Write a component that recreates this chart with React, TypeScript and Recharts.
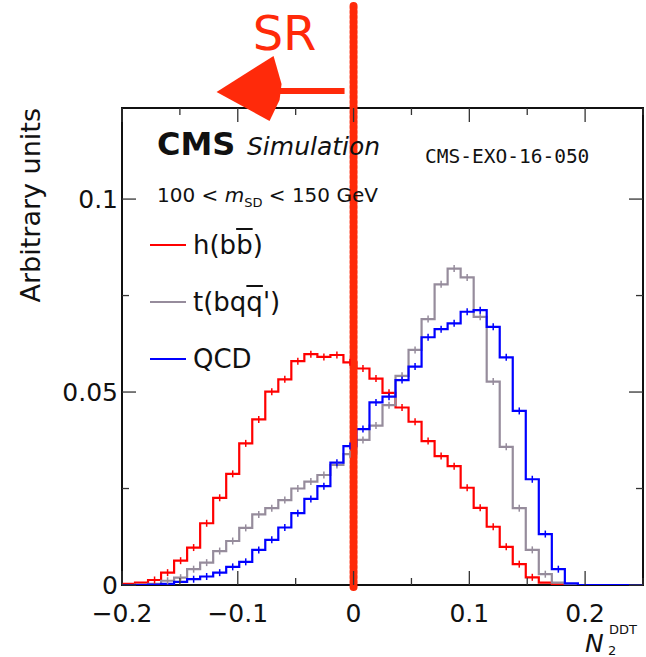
import { ComposedChart, Line, Scatter, XAxis, YAxis, ReferenceArea, ReferenceLine, Legend } from 'recharts';

const W = 646;
const H = 657;
const PLOT_L = 122;
const PLOT_R = 643;
const PLOT_T = 108;
const PLOT_B = 585;
const PLOT_W = PLOT_R - PLOT_L;
const PLOT_H = PLOT_B - PLOT_T;

const FONT = '"DejaVu Sans", "Liberation Sans", sans-serif';
const SR_RED = '#ff2a0a';

// histogram binning: 40 bins on [-0.2, 0.25]
const X_MIN = -0.2;
const X_MAX = 0.25;
const N_BINS = 40;
const BIN_W = (X_MAX - X_MIN) / N_BINS;
const Y_MAX = 0.1236;

const X_TICKS = [-0.2, -0.15, -0.1, -0.05, 0, 0.05, 0.1, 0.15, 0.2, 0.25];
const X_LABELS: Record<string, string> = { '-0.2': '−0.2', '-0.1': '−0.1', '0': '0', '0.1': '0.1', '0.2': '0.2' };
const Y_TICKS = [0, 0.025, 0.05, 0.075, 0.1];
const Y_LABELS: Record<string, string> = { '0': '0', '0.05': '0.05', '0.1': '0.1' };

// bin contents
const H_BB = [
    0.0003, 0.0006, 0.0013, 0.0032, 0.0063, 0.0097, 0.016, 0.0226, 0.0288, 0.0367,
    0.0429, 0.0501, 0.0533, 0.058, 0.0598, 0.0591, 0.0596, 0.0577, 0.0561, 0.0535,
    0.0498, 0.046, 0.0423, 0.0373, 0.0334, 0.0308, 0.0252, 0.02, 0.0151, 0.0099,
    0.0054, 0.002, 0.0006, 0.0002, 0, 0, 0, 0, 0, 0,
];
const T_BQQ = [
    0, 0.0001, 0.0003, 0.0011, 0.0019, 0.0041, 0.0058, 0.0088, 0.0114, 0.0148,
    0.0183, 0.0199, 0.022, 0.025, 0.0268, 0.0285, 0.0311, 0.0339, 0.0376, 0.0413,
    0.0466, 0.0542, 0.0609, 0.0689, 0.0779, 0.082, 0.0797, 0.0695, 0.0527, 0.0358,
    0.0199, 0.0091, 0.0028, 0.0006, 0, 0, 0, 0, 0, 0,
];
const QCD = [
    0, 0, 0.0001, 0.0003, 0.0008, 0.0015, 0.0022, 0.0032, 0.0047, 0.006,
    0.0091, 0.0117, 0.0149, 0.0186, 0.0223, 0.0256, 0.0317, 0.036, 0.0404, 0.0473,
    0.0488, 0.0531, 0.0566, 0.0642, 0.0663, 0.0678, 0.0708, 0.0712, 0.0669, 0.059,
    0.0451, 0.0274, 0.0132, 0.0041, 0.0004, 0, 0, 0, 0, 0,
];

const SERIES = [
    { key: 'h', values: H_BB, color: '#ff0000' },
    { key: 't', values: T_BQQ, color: '#968c9c' },
    { key: 'q', values: QCD, color: '#0000ff' },
];
const ORDER = SERIES.map(s => s.key);

const r6 = (v: number) => Number(v.toFixed(6));

// one row per bin edge, last edge repeats last bin so stepAfter closes the histogram
const edgeRows = Array.from({ length: N_BINS + 1 }, (_, k) => {
    const i = Math.min(k, N_BINS - 1);
    return { x: r6(X_MIN + k * BIN_W), h: H_BB[i], t: T_BQQ[i], q: QCD[i] };
});

// bin centres for the little error ticks
const centres = (vals: number[]) =>
    vals.map((v, k) => ({ x: r6(X_MIN + (k + 0.5) * BIN_W), y: v })).filter(p => p.y > 0.001);

const isMult = (v: number, step: number) => Math.abs(v / step - Math.round(v / step)) < 1e-6;

const XTick = (p: any) => {
    const v = p.payload.value;
    const major = isMult(v, 0.1);
    const len = major ? 14 : 7;
    const label = X_LABELS[String(r6(v))];
    return (
        <g>
            <line x1={p.x} x2={p.x} y1={p.y} y2={p.y - len} stroke="#333" strokeWidth={1.3} />
            <line x1={p.x} x2={p.x} y1={p.y - PLOT_H} y2={p.y - PLOT_H + len} stroke="#333" strokeWidth={1.3} />
            {label && (
                <text x={p.x} y={p.y + 37} textAnchor="middle" fontSize={25} fontFamily={FONT} fill="#111">{label}</text>
            )}
        </g>
    );
};

const YTick = (p: any) => {
    const v = p.payload.value;
    const major = isMult(v, 0.05);
    const len = major ? 14 : 7;
    const label = Y_LABELS[String(r6(v))];
    return (
        <g>
            <line x1={p.x} x2={p.x + len} y1={p.y} y2={p.y} stroke="#333" strokeWidth={1.3} />
            <line x1={p.x + PLOT_W} x2={p.x + PLOT_W - len} y1={p.y} y2={p.y} stroke="#333" strokeWidth={1.3} />
            {label && (
                <text x={p.x - 4} y={p.y + 9} textAnchor="end" fontSize={25} fontFamily={FONT} fill="#111">{label}</text>
            )}
        </g>
    );
};

const errTick = (color: string) => (p: any) => (
    <line x1={p.cx} x2={p.cx} y1={p.cy - 3.5} y2={p.cy + 3.5} stroke={color} strokeWidth={1.5} />
);

// SR marker hand-drawn at N2 = 0: rough line, arrow pointing left, label
const srShape = (p: any) => {
    const x = p.x1;
    const yb = Math.max(p.y1, p.y2);
    return (
        <g>
            <line x1={x} x2={x} y1={6} y2={yb + 2} stroke={SR_RED} strokeWidth={6} />
            <line x1={x} x2={x} y1={6} y2={yb + 2} stroke={SR_RED} strokeWidth={8} strokeDasharray="2 3" strokeLinecap="round" />
            <line x1={x - 9} x2={x - 80} y1={91} y2={91} stroke={SR_RED} strokeWidth={6} />
            <polygon points={`${x - 137},92 ${x - 80},56 ${x - 72},84 ${x - 74},100 ${x - 84},121`} fill={SR_RED} />
            <text x={x - 69} y={50} textAnchor="middle" fontSize={48} fontFamily={FONT} fill={SR_RED}>SR</text>
        </g>
    );
};

const LEGEND_TEXT: Record<string, any> = {
    h: <>h(b<span style={{ textDecoration: 'overline' }}>b</span>)</>,
    t: <>t(bq<span style={{ textDecoration: 'overline' }}>q</span>')</>,
    q: <>QCD</>,
};

const renderLegend = (props: any) => {
    const items = (props.payload || [])
        .filter((e: any) => e.type !== 'none' && ORDER.includes(e.dataKey))
        .sort((a: any, b: any) => ORDER.indexOf(a.dataKey) - ORDER.indexOf(b.dataKey));
    return (
        <div style={{ fontFamily: FONT, fontSize: 26, color: '#111' }}>
            {items.map((e: any) => (
                <div key={e.dataKey} style={{ display: 'flex', alignItems: 'center', height: 57 }}>
                    <div style={{ width: 36, height: 2, background: e.color, marginRight: 7 }} />
                    <span>{LEGEND_TEXT[e.dataKey]}</span>
                </div>
            ))}
        </div>
    );
};

export default function App() {
    return (
        <div style={{ position: 'absolute', left: 0, top: 0, width: W, height: H, background: '#fff' }}>
            <ComposedChart
                width={W}
                height={H}
                data={edgeRows}
                margin={{ top: PLOT_T, right: W - PLOT_R, bottom: 0, left: 0 }}
            >
                <XAxis
                    dataKey="x"
                    type="number"
                    domain={[X_MIN, X_MAX]}
                    allowDataOverflow
                    ticks={X_TICKS}
                    interval={0}
                    height={H - PLOT_B}
                    tickSize={0}
                    tickMargin={0}
                    tickLine={false}
                    axisLine={false}
                    tick={XTick}
                />
                <YAxis
                    type="number"
                    domain={[0, Y_MAX]}
                    allowDataOverflow
                    ticks={Y_TICKS}
                    interval={0}
                    width={PLOT_L}
                    tickSize={0}
                    tickMargin={0}
                    tickLine={false}
                    axisLine={false}
                    tick={YTick}
                />
                <Legend
                    layout="vertical"
                    align="center"
                    verticalAlign="middle"
                    content={renderLegend}
                    wrapperStyle={{ left: 150, top: 216, width: 220 }}
                />
                {SERIES.map(s => (
                    <Line
                        key={s.key}
                        dataKey={s.key}
                        type="stepAfter"
                        stroke={s.color}
                        strokeWidth={2.2}
                        dot={false}
                        activeDot={false}
                        isAnimationActive={false}
                    />
                ))}
                {SERIES.map(s => (
                    <Scatter
                        key={'e' + s.key}
                        data={centres(s.values)}
                        dataKey="y"
                        legendType="none"
                        shape={errTick(s.color)}
                        isAnimationActive={false}
                    />
                ))}
                <ReferenceArea x1={X_MIN} x2={X_MAX} y1={0} y2={Y_MAX} fill="none" stroke="#111" strokeWidth={2} fillOpacity={0} />
                <ReferenceLine x={0} shape={srShape} />
            </ComposedChart>

            <svg width={W} height={H} style={{ position: 'absolute', left: 0, top: 0, pointerEvents: 'none' }}>
                <text transform={`translate(40,${PLOT_T}) rotate(-90)`} textAnchor="end" fontSize={27} fontFamily={FONT} fill="#111">
                    Arbitrary units
                </text>
                <text x={157} y={155} fontSize={32} fontWeight="bold" fontFamily={FONT} fill="#111">CMS</text>
                <text x={247} y={155} fontSize={25} fontStyle="italic" fontFamily={FONT} fill="#111">Simulation</text>
                <text x={425} y={163} fontSize={19.5} fontFamily='"DejaVu Sans Mono", monospace' fill="#111">CMS-EXO-16-050</text>
                <text x={157} y={202} fontSize={20} fontFamily={FONT} fill="#111">
                    100 &lt; <tspan fontStyle="italic">m</tspan>
                    <tspan fontSize={13} dy={5}>SD</tspan>
                    <tspan dy={-5}> &lt; 150 GeV</tspan>
                </text>
                <text x={585} y={652} fontSize={25} fontStyle="italic" fontFamily={FONT} fill="#111">N</text>
                <text x={609} y={634} fontSize={13} fontFamily={FONT} fill="#111">DDT</text>
                <text x={608} y={655} fontSize={13} fontFamily={FONT} fill="#111">2</text>
            </svg>
        </div>
    );
}
